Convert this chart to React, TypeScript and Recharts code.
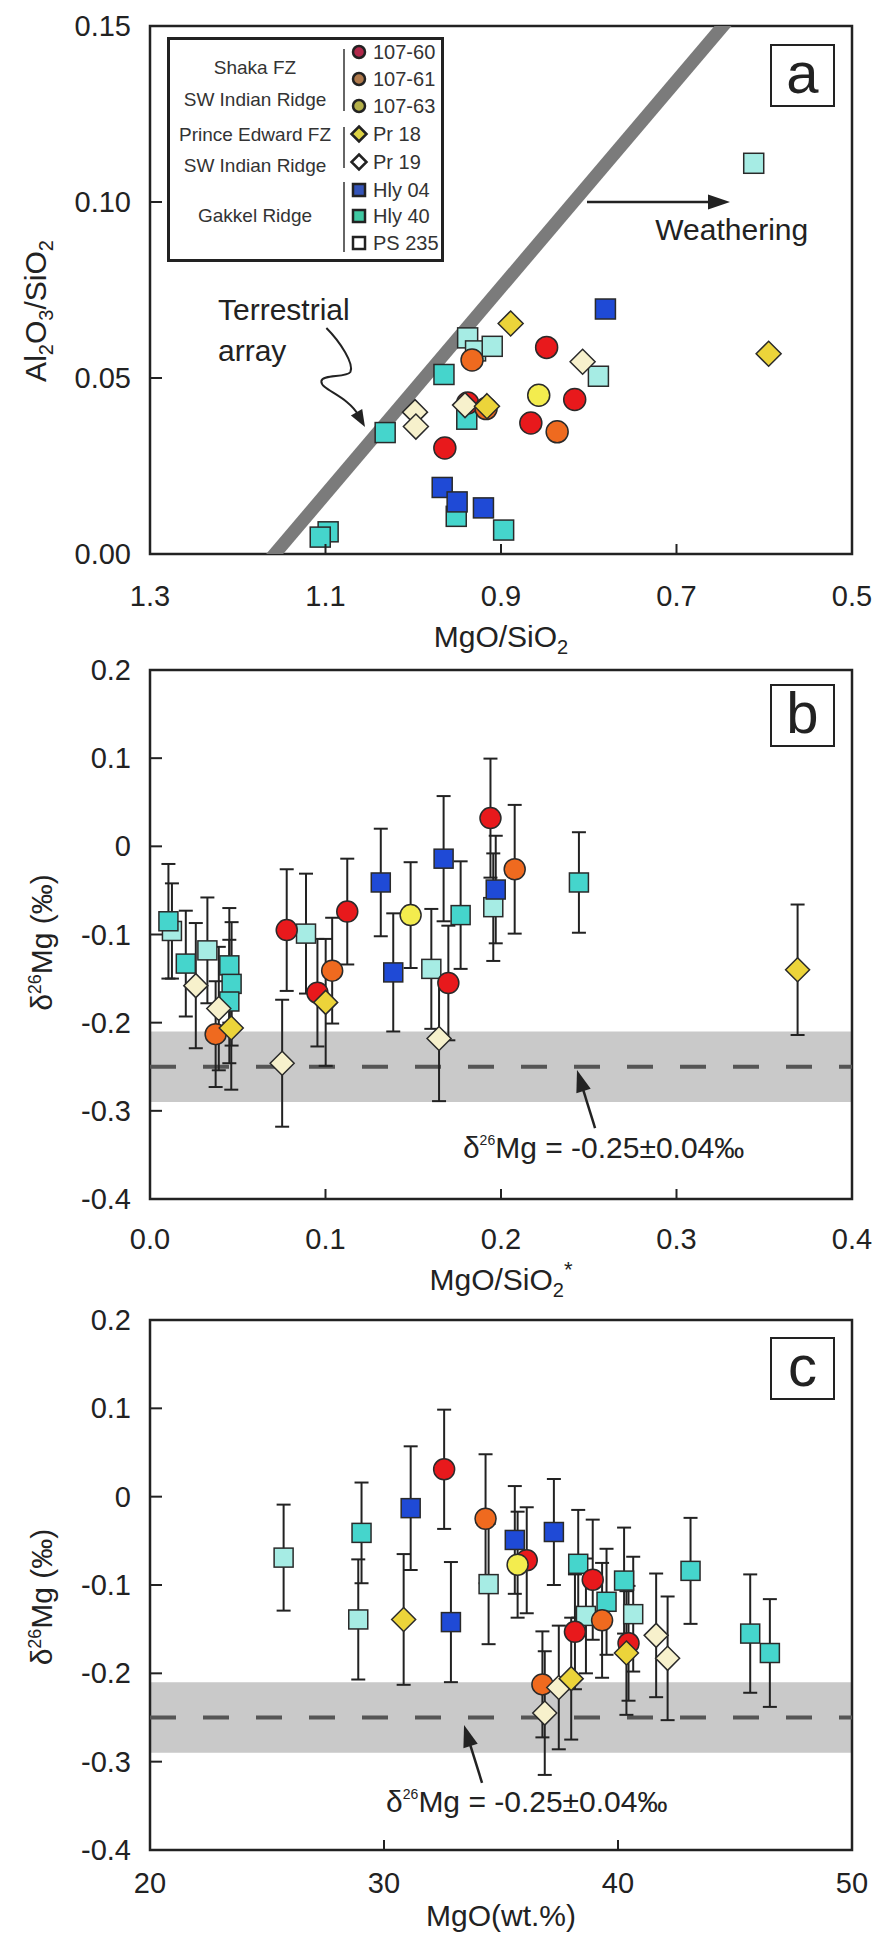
import React from 'react';
import {
  ScatterChart,
  Scatter,
  XAxis,
  YAxis,
  ErrorBar,
  ReferenceArea,
  ReferenceLine,
  ReferenceDot,
  Legend,
} from 'recharts';

const FONT = '"Liberation Sans", Arial, Helvetica, sans-serif';
const INK = '#222';
const EDGE = '#2a2a2a';

// ---- panel a : Al2O3/SiO2 vs MgO/SiO2  [x, y]
const A_107_60 = [[0.848, 0.0587], [0.816, 0.0439], [0.866, 0.0372], [0.964, 0.0301], [0.938, 0.0429]];
const A_107_61 = [[0.933, 0.0551], [0.836, 0.0347], [0.917, 0.0413]];
const A_107_63 = [[0.857, 0.0451]];
const A_PR18 = [[0.889, 0.0655], [0.595, 0.0569], [0.916, 0.042]];
const A_PR19 = [[0.807, 0.0546], [0.998, 0.0403], [0.997, 0.0362], [0.941, 0.0423]];
const A_HLY04 = [[0.781, 0.0696], [0.967, 0.0189], [0.95, 0.0148], [0.92, 0.0131]];
const A_HLY40 = [[1.097, 0.0063], [1.106, 0.0048], [0.951, 0.0107], [0.897, 0.0068], [1.032, 0.0345], [0.965, 0.051], [0.939, 0.0383]];
const A_PS235 = [[0.612, 0.111], [0.938, 0.0614], [0.929, 0.0577], [0.91, 0.059], [0.789, 0.0505]];

// ---- panel b : d26Mg vs MgO/SiO2*  [x, y, 2sd]
const B_107_60 = [[0.0779, -0.095, 0.069], [0.0954, -0.166, 0.061], [0.1124, -0.074, 0.06], [0.17, -0.155, 0.065], [0.194, 0.032, 0.0675]];
const B_107_61 = [[0.0374, -0.213, 0.06], [0.1038, -0.141, 0.06], [0.2078, -0.026, 0.073]];
const B_107_63 = [[0.1485, -0.078, 0.06]];
const B_PR18 = [[0.0463, -0.206, 0.07], [0.1001, -0.177, 0.072], [0.369, -0.14, 0.074]];
const B_PR19 = [[0.0261, -0.158, 0.071], [0.0392, -0.184, 0.07], [0.0753, -0.246, 0.072], [0.1647, -0.218, 0.071]];
const B_HLY04 = [[0.1315, -0.041, 0.061], [0.1386, -0.143, 0.067], [0.1673, -0.014, 0.071], [0.197, -0.049, 0.061]];
const B_HLY40 = [[0.0105, -0.085, 0.065], [0.0204, -0.133, 0.06], [0.0452, -0.135, 0.065], [0.0465, -0.156, 0.07], [0.0452, -0.176, 0.07], [0.177, -0.078, 0.061], [0.2444, -0.041, 0.057]];
const B_PS235 = [[0.0125, -0.096, 0.054], [0.0327, -0.118, 0.06], [0.0889, -0.099, 0.068], [0.1603, -0.139, 0.068], [0.1956, -0.069, 0.061]];

// ---- panel c : d26Mg vs MgO (wt.%)  [x, y, 2sd]
const C_107_60 = [[32.57, 0.031, 0.0675], [36.1, -0.072, 0.06], [38.92, -0.094, 0.068], [38.16, -0.153, 0.065], [40.45, -0.166, 0.065]];
const C_107_61 = [[34.34, -0.025, 0.073], [39.32, -0.14, 0.065], [36.77, -0.2125, 0.06]];
const C_107_63 = [[35.71, -0.077, 0.06]];
const C_PR18 = [[30.84, -0.139, 0.074], [40.36, -0.177, 0.07], [38.0, -0.206, 0.069]];
const C_PR19 = [[41.63, -0.157, 0.07], [42.12, -0.183, 0.07], [37.47, -0.216, 0.07], [36.87, -0.245, 0.07]];
const C_HLY04 = [[31.14, -0.013, 0.07], [32.86, -0.142, 0.068], [35.59, -0.049, 0.061], [37.26, -0.04, 0.06]];
const C_HLY40 = [[29.04, -0.041, 0.057], [38.3, -0.076, 0.061], [39.51, -0.119, 0.06], [40.26, -0.095, 0.06], [43.1, -0.084, 0.06], [45.65, -0.155, 0.067], [46.49, -0.177, 0.061]];
const C_PS235 = [[25.71, -0.069, 0.06], [28.9, -0.139, 0.068], [34.47, -0.099, 0.068], [38.63, -0.135, 0.065], [40.65, -0.133, 0.065]];

// ticks
const A_XTICKS = [1.3, 1.1, 0.9, 0.7, 0.5];
const A_YTICKS = [0, 0.05, 0.1, 0.15];
const B_XTICKS = [0, 0.1, 0.2, 0.3, 0.4];
const C_XTICKS = [20, 30, 40, 50];
const D_YTICKS = [-0.4, -0.3, -0.2, -0.1, 0, 0.1, 0.2];

// reference values
const MANTLE = -0.25;
const MANTLE_SD = 0.04;

const STYLE: Record<string, { kind: string; fill: string; legend: string }> = {
  '107-60': { kind: 'circle', fill: '#e8191c', legend: '#b0284a' },
  '107-61': { kind: 'circle', fill: '#ef6a1f', legend: '#b07a4c' },
  '107-63': { kind: 'circle', fill: '#f3ec4e', legend: '#b4b04a' },
  'Pr 18': { kind: 'diamond', fill: '#ecd43a', legend: '#ddd244' },
  'Pr 19': { kind: 'diamond', fill: '#f7f1cc', legend: '#ffffff' },
  'Hly 04': { kind: 'square', fill: '#1f4ad6', legend: '#3454b8' },
  'Hly 40': { kind: 'square', fill: '#45d5cc', legend: '#3fc8a2' },
  'PS 235': { kind: 'square', fill: '#a6ece4', legend: '#ffffff' },
};

const ORDER = ['PS 235', 'Hly 40', 'Hly 04', '107-60', '107-61', '107-63', 'Pr 19', 'Pr 18'];
const A_DATA: Record<string, number[][]> = {
  '107-60': A_107_60, '107-61': A_107_61, '107-63': A_107_63, 'Pr 18': A_PR18,
  'Pr 19': A_PR19, 'Hly 04': A_HLY04, 'Hly 40': A_HLY40, 'PS 235': A_PS235,
};
const B_DATA: Record<string, number[][]> = {
  '107-60': B_107_60, '107-61': B_107_61, '107-63': B_107_63, 'Pr 18': B_PR18,
  'Pr 19': B_PR19, 'Hly 04': B_HLY04, 'Hly 40': B_HLY40, 'PS 235': B_PS235,
};
const C_DATA: Record<string, number[][]> = {
  '107-60': C_107_60, '107-61': C_107_61, '107-63': C_107_63, 'Pr 18': C_PR18,
  'Pr 19': C_PR19, 'Hly 04': C_HLY04, 'Hly 40': C_HLY40, 'PS 235': C_PS235,
};

const rows = (arr: number[][]) => arr.map(([x, y, err]) => ({ x, y, err }));

const marker = (kind: string, fill: string, size: number) => (p: any) => {
  const { cx, cy } = p;
  if (typeof cx !== 'number' || typeof cy !== 'number') return <g />;
  const h = size / 2;
  if (kind === 'circle')
    return <circle cx={cx} cy={cy} r={h} fill={fill} stroke={EDGE} strokeWidth={1.5} />;
  if (kind === 'square')
    return <rect x={cx - h + 1} y={cy - h + 1} width={size - 2} height={size - 2} fill={fill} stroke={EDGE} strokeWidth={1.5} />;
  const d = h + 1.5;
  return (
    <polygon
      points={`${cx},${cy - d} ${cx + d},${cy} ${cx},${cy + d} ${cx - d},${cy}`}
      fill={fill}
      stroke={EDGE}
      strokeWidth={1.5}
    />
  );
};

const txt = { fontFamily: FONT, fill: INK } as const;

const yTick = (fmt: (v: number) => string) => (p: any) => (
  <g>
    <line x1={p.x} x2={p.x + 12} y1={p.y} y2={p.y} stroke={INK} strokeWidth={2} />
    <text x={p.x - 19} y={p.y + 10} textAnchor="end" fontSize={29} {...txt}>
      {fmt(p.payload.value)}
    </text>
  </g>
);

const xTick = (fmt: (v: number) => string, dy: number) => (p: any) => (
  <g>
    <line x1={p.x} x2={p.x} y1={p.y} y2={p.y - 10} stroke={INK} strokeWidth={2} />
    <text x={p.x} y={p.y + dy} textAnchor="middle" fontSize={29} {...txt}>
      {fmt(p.payload.value)}
    </text>
  </g>
);

const fixed1 = (v: number) => v.toFixed(1);
const fixed2 = (v: number) => v.toFixed(2);
const deltaFmt = (v: number) => (Math.abs(v) < 1e-9 ? '0' : v.toFixed(1));
const intFmt = (v: number) => String(v);

const xTitle = (dy: number, parts: React.ReactNode) => (props: any) => {
  const vb = props.viewBox || {};
  return (
    <text x={vb.x + vb.width / 2} y={vb.y + dy} textAnchor="middle" fontSize={30} {...txt}>
      {parts}
    </text>
  );
};

const yTitle = (bx: number, dy: number, parts: React.ReactNode) => (props: any) => {
  const vb = props.viewBox || {};
  const cx = vb.x + bx;
  const cy = vb.y + vb.height / 2 + dy;
  return (
    <text x={cx} y={cy} transform={`rotate(-90 ${cx} ${cy})`} textAnchor="middle" fontSize={30} {...txt}>
      {parts}
    </text>
  );
};

const head = (tx: number, ty: number, fx: number, fy: number, len: number, half: number) => {
  const a = Math.atan2(ty - fy, tx - fx);
  const bx = tx - len * Math.cos(a);
  const by = ty - len * Math.sin(a);
  const nx = -Math.sin(a) * half;
  const ny = Math.cos(a) * half;
  return `${tx},${ty} ${bx + nx},${by + ny} ${bx - nx},${by - ny}`;
};

const straightArrow = (p: any) => {
  const { x1, y1, x2, y2 } = p;
  const a = Math.atan2(y2 - y1, x2 - x1);
  return (
    <g>
      <line x1={x1} y1={y1} x2={x2 - 18 * Math.cos(a)} y2={y2 - 18 * Math.sin(a)} stroke={INK} strokeWidth={2.5} />
      <polygon points={head(x2, y2, x1, y1, 22, 7.5)} fill={INK} />
    </g>
  );
};

const wiggleArrow = (p: any) => {
  const { x1, y1, x2, y2 } = p;
  const d = `M ${x1} ${y1} C ${x1 + 14} ${y1 + 14}, ${x1 + 28} ${y1 + 36}, ${x1 + 24} ${y1 + 44} C ${x1 + 20} ${y1 + 50}, ${x1 - 4} ${y1 + 46}, ${x1 - 5} ${y1 + 53} C ${x1 - 6} ${y1 + 62}, ${x2 - 18} ${y2 - 32}, ${x2 - 6} ${y2 - 11}`;
  return (
    <g>
      <path d={d} fill="none" stroke={INK} strokeWidth={2} />
      <polygon points={head(x2, y2, x2 - 16, y2 - 28, 17, 6.5)} fill={INK} />
    </g>
  );
};

const textAt = (s: React.ReactNode, anchor: 'start' | 'middle', size = 30) => (p: any) => (
  <text x={p.cx} y={p.cy} textAnchor={anchor} fontSize={size} {...txt}>
    {s}
  </text>
);

const DELTA_NOTE = (
  <>
    δ<tspan fontSize={14} dy={-13}>26</tspan>
    <tspan dy={13}>Mg = -0.25±0.04‰</tspan>
  </>
);

const DELTA_TITLE = (
  <>
    δ<tspan fontSize={18} dy={-11}>26</tspan>
    <tspan dy={11}>Mg (‰)</tspan>
  </>
);

// legend
const LEG_ROWS = ['107-60', '107-61', '107-63', 'Pr 18', 'Pr 19', 'Hly 04', 'Hly 40', 'PS 235'];
const LEG_ROW_Y = [15, 42, 69, 97, 125, 153, 179, 206];
const LEG_GROUPS = [
  { lines: ['Shaka FZ', 'SW Indian Ridge'], ys: [30, 62], bar: [12, 74] },
  { lines: ['Prince Edward FZ', 'SW Indian Ridge'], ys: [97, 128], bar: [90, 131] },
  { lines: ['Gakkel Ridge'], ys: [178], bar: [145, 215] },
];

function LegendBox() {
  return (
    <svg width={277} height={225} style={{ display: 'block' }}>
      <rect x={1.5} y={1.5} width={274} height={222} fill="#fff" stroke={INK} strokeWidth={3} />
      {LEG_GROUPS.map((g, i) => (
        <g key={i}>
          {g.lines.map((l, j) => (
            <text key={j} x={88} y={g.ys[j] + 7} textAnchor="middle" fontSize={19} fontFamily={FONT} fill="#333">
              {l}
            </text>
          ))}
          <line x1={177} x2={177} y1={g.bar[0]} y2={g.bar[1]} stroke="#333" strokeWidth={1.5} />
        </g>
      ))}
      {LEG_ROWS.map((k, i) => {
        const s = STYLE[k];
        const cx = 192;
        const cy = LEG_ROW_Y[i];
        let m;
        if (s.kind === 'circle') m = <circle cx={cx} cy={cy} r={6} fill={s.legend} stroke="#222" strokeWidth={2.5} />;
        else if (s.kind === 'square') m = <rect x={cx - 6} y={cy - 6} width={12} height={12} fill={s.legend} stroke="#222" strokeWidth={2.5} />;
        else m = <polygon points={`${cx},${cy - 7.5} ${cx + 7.5},${cy} ${cx},${cy + 7.5} ${cx - 7.5},${cy}`} fill={s.legend} stroke="#222" strokeWidth={2.5} />;
        return (
          <g key={k}>
            {m}
            <text x={206} y={cy + 7} fontSize={20} fontFamily={FONT} fill="#333">
              {k}
            </text>
          </g>
        );
      })}
    </svg>
  );
}

function PanelTag({ letter, top }: { letter: string; top: number }) {
  return (
    <div
      style={{
        position: 'absolute',
        left: 770,
        top,
        width: 61,
        height: 59,
        border: `2.5px solid ${INK}`,
        background: '#fff',
        color: INK,
        fontFamily: FONT,
        fontSize: 58,
        lineHeight: '54px',
        textAlign: 'center',
      }}
    >
      {letter}
    </div>
  );
}

const renderSeries = (data: Record<string, number[][]>, size: number, withErr: boolean) =>
  ORDER.map((k) => (
    <Scatter
      key={k}
      name={k}
      data={rows(data[k])}
      shape={marker(STYLE[k].kind, STYLE[k].fill, size)}
      isAnimationActive={false}
    >
      {withErr && <ErrorBar dataKey="err" direction="y" width={7} stroke={INK} strokeWidth={2} />}
    </Scatter>
  ));

export default function App() {
  return (
    <div style={{ position: 'absolute', left: 0, top: 0, width: 876, height: 1938, background: '#fff' }}>
      {/* ---------- a ---------- */}
      <div style={{ position: 'absolute', left: 0, top: 0 }}>
        <ScatterChart width={876} height={662} margin={{ top: 26, right: 24, bottom: 0, left: 0 }}>
          <XAxis
            type="number"
            dataKey="x"
            domain={[0.5, 1.3]}
            reversed
            allowDataOverflow
            ticks={A_XTICKS}
            interval={0}
            axisLine={false}
            tickLine={false}
            tickSize={0}
            tickMargin={0}
            height={108}
            tick={xTick(fixed1, 52)}
            label={xTitle(93, <>MgO/SiO<tspan fontSize={20} dy={7}>2</tspan></>)}
          />
          <YAxis
            type="number"
            dataKey="y"
            domain={[0, 0.15]}
            allowDataOverflow
            ticks={A_YTICKS}
            interval={0}
            axisLine={false}
            tickLine={false}
            tickSize={0}
            tickMargin={0}
            width={150}
            tick={yTick(fixed2)}
            label={yTitle(46, 21, (
              <>
                Al<tspan fontSize={20} dy={7}>2</tspan>
                <tspan dy={-7}>O</tspan>
                <tspan fontSize={20} dy={7}>3</tspan>
                <tspan dy={-7}>/SiO</tspan>
                <tspan fontSize={20} dy={7}>2</tspan>
              </>
            ))}
          />
          <ReferenceLine
            segment={[{ x: 1.192, y: -0.01 }, { x: 0.613, y: 0.16 }]}
            stroke="#7b7b7b"
            strokeWidth={13}
            ifOverflow="hidden"
          />
          <ReferenceLine segment={[{ x: 0.802, y: 0.1 }, { x: 0.639, y: 0.1 }]} shape={straightArrow} />
          <ReferenceLine segment={[{ x: 1.099, y: 0.0642 }, { x: 1.055, y: 0.0361 }]} shape={wiggleArrow} />
          <ReferenceDot x={0.637} y={0.0892} r={0} shape={textAt('Weathering', 'middle')} />
          <ReferenceDot x={1.2225} y={0.0665} r={0} shape={textAt('Terrestrial', 'start')} />
          <ReferenceDot x={1.2225} y={0.0548} r={0} shape={textAt('array', 'start')} />
          {renderSeries(A_DATA, 22, false)}
          <ReferenceArea x1={0.5} x2={1.3} y1={0} y2={0.15} fill="none" stroke={INK} strokeWidth={2.5} ifOverflow="visible" />
          <Legend
            layout="horizontal"
            verticalAlign="middle"
            align="center"
            content={() => <LegendBox />}
            wrapperStyle={{ left: 167, top: 37, width: 277, height: 225 }}
          />
        </ScatterChart>
      </div>

      {/* ---------- b ---------- */}
      <div style={{ position: 'absolute', left: 0, top: 645 }}>
        <ScatterChart width={876} height={662} margin={{ top: 25, right: 24, bottom: 0, left: 0 }}>
          <XAxis
            type="number"
            dataKey="x"
            domain={[0, 0.4]}
            allowDataOverflow
            ticks={B_XTICKS}
            interval={0}
            axisLine={false}
            tickLine={false}
            tickSize={0}
            tickMargin={0}
            height={108}
            tick={xTick(fixed1, 50)}
            label={xTitle(91, <>MgO/SiO<tspan fontSize={20} dy={7}>2</tspan><tspan fontSize={22} dy={-20}>*</tspan></>)}
          />
          <YAxis
            type="number"
            dataKey="y"
            domain={[-0.4, 0.2]}
            allowDataOverflow
            ticks={D_YTICKS}
            interval={0}
            axisLine={false}
            tickLine={false}
            tickSize={0}
            tickMargin={0}
            width={150}
            tick={yTick(deltaFmt)}
            label={yTitle(52, 8, DELTA_TITLE)}
          />
          <ReferenceArea y1={MANTLE - MANTLE_SD} y2={MANTLE + MANTLE_SD} x1={0} x2={0.4} fill="#c9c9c9" fillOpacity={1} stroke="none" />
          <ReferenceLine y={MANTLE} stroke="#555" strokeWidth={4} strokeDasharray="26 27" />
          <ReferenceLine segment={[{ x: 0.2536, y: -0.3195 }, { x: 0.2433, y: -0.2537 }]} shape={straightArrow} />
          <ReferenceDot x={0.1783} y={-0.3535} r={0} shape={textAt(DELTA_NOTE, 'start')} />
          {renderSeries(B_DATA, 21, true)}
          <ReferenceArea x1={0} x2={0.4} y1={-0.4} y2={0.2} fill="none" stroke={INK} strokeWidth={2.5} ifOverflow="visible" />
        </ScatterChart>
      </div>

      {/* ---------- c ---------- */}
      <div style={{ position: 'absolute', left: 0, top: 1294 }}>
        <ScatterChart width={876} height={644} margin={{ top: 26, right: 24, bottom: 0, left: 0 }}>
          <XAxis
            type="number"
            dataKey="x"
            domain={[20, 50]}
            allowDataOverflow
            ticks={C_XTICKS}
            interval={0}
            axisLine={false}
            tickLine={false}
            tickSize={0}
            tickMargin={0}
            height={88}
            tick={xTick(intFmt, 43)}
            label={xTitle(76, 'MgO(wt.%)')}
          />
          <YAxis
            type="number"
            dataKey="y"
            domain={[-0.4, 0.2]}
            allowDataOverflow
            ticks={D_YTICKS}
            interval={0}
            axisLine={false}
            tickLine={false}
            tickSize={0}
            tickMargin={0}
            width={150}
            tick={yTick(deltaFmt)}
            label={yTitle(52, 12, DELTA_TITLE)}
          />
          <ReferenceArea y1={MANTLE - MANTLE_SD} y2={MANTLE + MANTLE_SD} x1={20} x2={50} fill="#c9c9c9" fillOpacity={1} stroke="none" />
          <ReferenceLine y={MANTLE} stroke="#555" strokeWidth={4} strokeDasharray="26 27" />
          <ReferenceLine segment={[{ x: 34.19, y: -0.324 }, { x: 33.42, y: -0.2585 }]} shape={straightArrow} />
          <ReferenceDot x={30.09} y={-0.357} r={0} shape={textAt(DELTA_NOTE, 'start')} />
          {renderSeries(C_DATA, 21, true)}
          <ReferenceArea x1={20} x2={50} y1={-0.4} y2={0.2} fill="none" stroke={INK} strokeWidth={2.5} ifOverflow="visible" />
        </ScatterChart>
      </div>

      <PanelTag letter="a" top={44} />
      <PanelTag letter="b" top={684} />
      <PanelTag letter="c" top={1337} />
    </div>
  );
}
